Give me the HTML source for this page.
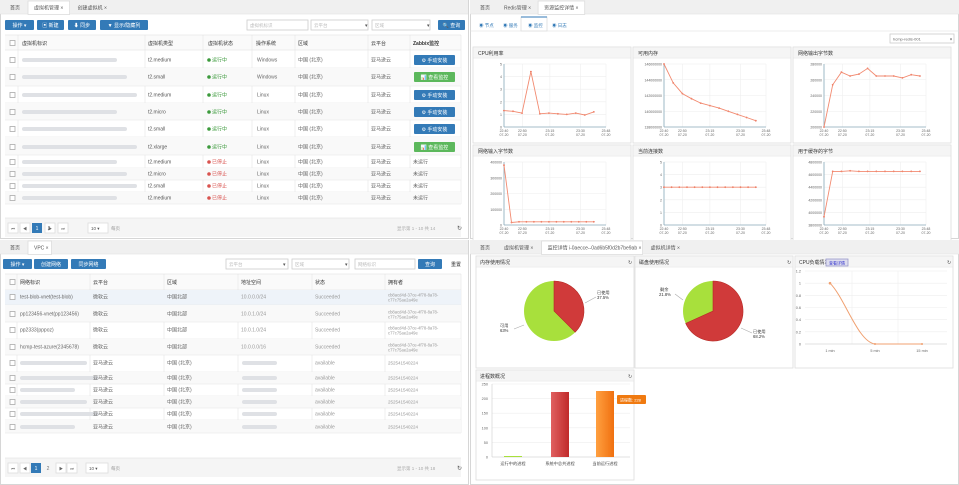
<!DOCTYPE html>
<html><head><meta charset="utf-8">
<style>
html,body{margin:0;padding:0;background:#fff;width:959px;height:485px;overflow:hidden}
svg{display:block}
text{font-family:"Liberation Sans","Noto Sans CJK SC",sans-serif}
</style></head><body>
<svg id="s" width="959" height="485" viewBox="0 0 959 485" xmlns="http://www.w3.org/2000/svg"></svg>
<script>
var o=[];
function R(x,y,w,h,f,s,rx){o.push('<rect x="'+x+'" y="'+y+'" width="'+w+'" height="'+h+'" fill="'+(f||'none')+'"'+(s?' stroke="'+s+'" stroke-width="0.8"':'')+(rx?' rx="'+rx+'"':'')+'/>');}
function T(x,y,t,sz,c,a,w){o.push('<text x="'+x+'" y="'+y+'" font-size="'+(sz||5)+'" fill="'+(c||'#555')+'"'+(a?' text-anchor="'+a+'"':'')+(w?' font-weight="bold"':'')+'>'+t+'</text>');}
function L(x1,y1,x2,y2,c,w){o.push('<line x1="'+x1+'" y1="'+y1+'" x2="'+x2+'" y2="'+y2+'" stroke="'+(c||'#ddd')+'" stroke-width="'+(w||0.6)+'"/>');}
function P(d,f,s,w){o.push('<path d="'+d+'" fill="'+(f||'none')+'" stroke="'+(s||'none')+'" stroke-width="'+(w||1)+'"/>');}
function blur(x,y,w){R(x,y-2,w,4,'#dfe1e5',null,2);}
function btn(x,y,w,h,t,c){R(x,y,w,h,c||'#337ab7',null,1);T(x+w/2,y+h/2+2,t,5,'#fff','middle');}
function cb(x,y){R(x,y-2.5,5,5,'#fff','#aaa');}
function tw(t){var w=0;for(var i=0;i<t.length;i++){w+=t.charCodeAt(i)>255?5:2.3;}return w;}
function tabs(x,y,w,list,act){R(x,y,w,14,'#f0f0f0');L(x,y+14,x+w,y+14,'#ddd');var cx=x+4;list.forEach(function(t,i){var ww=tw(t)+12;if(i==act){R(cx,y+1,ww,13.5,'#fff','#ddd');}T(cx+6,y+9.5,t,5,'#555');cx+=ww+2;});}
R(0.5,0.5,468,238,'#fff','#ccc');R(470.5,0.5,488,238,'#fff','#ccc');
R(0.5,240.5,468,244,'#fff','#ccc');R(470.5,240.5,488,244,'#fff','#ccc');
// ===== TOP LEFT =====
tabs(0,0,468,['首页','虚拟机管理 ×','创建虚拟机 ×'],1);
btn(5,20,29,10,'操作 ▾');btn(37,20,27,10,'▣ 新建');btn(68,20,28,10,'⬇ 同步');btn(100,20,48,10,'▼ 显示/隐藏列');
R(247,20,61,10,'#fff','#ccc');T(250,27,'虚拟机标识',4.5,'#bbb');
R(311,20,57,10,'#fff','#ccc');T(314,27,'云平台',4.5,'#bbb');T(365,27,'▾',5,'#555');
R(372,20,58,10,'#fff','#ccc');T(375,27,'区域',4.5,'#bbb');T(427,27,'▾',5,'#555');
btn(438,20,27,10,'🔍 查询');
R(5,35,456,15,'#fafafa');L(5,50,461,50,'#ddd');L(5,35,461,35,'#ddd');
var cols=[18,145,203,252,295,368,410,461];cols.forEach(function(c){L(c,35,c,204,'#e5e5e5');});
cb(10,43);T(22,45,'虚拟机标识',5,'#333');T(148,45,'虚拟机类型',5,'#333');T(208,45,'虚拟机状态',5,'#333');T(256,45,'操作系统',5,'#333');T(298,45,'区域',5,'#333');T(371,45,'云平台',5,'#333');T(413,45,'Zabbix监控',5,'#333',0,1);
var rows=[[60,'t2.medium',1,'Windows',1],[77,'t2.small',1,'Windows',2],[95,'t2.medium',1,'Linux',1],[112,'t2.micro',1,'Linux',1],[129,'t2.small',1,'Linux',1],[147,'t2.xlarge',1,'Linux',2],[162,'t2.medium',0,'Linux',0],[174,'t2.micro',0,'Linux',0],[186,'t2.small',0,'Linux',0],[198,'t2.medium',0,'Linux',0]];
var bnd=[50,68,86,103,120,137,155,168,180,192,204];
rows.forEach(function(r,i){if(i%2==1)R(5,bnd[i],456,bnd[i+1]-bnd[i],'#f9f9f9');L(5,bnd[i+1],461,bnd[i+1],'#e5e5e5');var y=r[0]+1.5;cb(10,r[0]);blur(22,r[0],95+(i%3)*10);T(148,y,r[1],5,'#555');
if(r[2]){o.push('<circle cx="209" cy="'+(r[0])+'" r="1.8" fill="#3c9a3c"/>');T(212,y,'运行中',5,'#3c9a3c');}else{o.push('<circle cx="209" cy="'+r[0]+'" r="1.8" fill="#d9534f"/>');T(212,y,'已停止',5,'#d9534f');}
T(257,y,r[3],5,'#666');T(298,y,'中国 (北京)',5,'#666');T(371,y,'亚马逊云',5,'#666');
if(r[4]==1)btn(414,r[0]-5,41,10,'⚙ 手动安装','#337ab7');else if(r[4]==2)btn(414,r[0]-5,41,10,'📊 查看监控','#5cb85c');else T(413,y,'未运行',5,'#666');});
R(5,218,456,19,'#f5f5f5');L(5,218,461,218,'#ddd');
[[8,'⏮'],[20,'◀'],[45,'▶'],[58,'⏭']].forEach(function(p){R(p[0],223,10,10,'#fff','#ddd');T(p[0]+5,230,p[1],4,'#666','middle');});
R(32,223,10,10,'#337ab7');T(37,230,'1',5,'#fff','middle');T(49,230,'2',5,'#777','middle');
R(88,223,20,10,'#fff','#ddd');T(91,230,'10 ▾',4.5,'#555');T(111,230,'每页',4.5,'#999');
T(397,230,'显示第 1 - 10 共 14',4.5,'#aaa');T(457,230,'↻',6,'#555');
// ===== BOTTOM LEFT =====
tabs(0,240,468,['首页','VPC ×'],1);
btn(3,259,29,10,'操作 ▾');btn(34,259,34,10,'创建网络');btn(71,259,35,10,'同步网络');
R(226,259,62,10,'#fff','#ccc');T(229,266,'云平台',4.5,'#bbb');T(283,266,'▾',5,'#555');
R(292,259,57,10,'#fff','#ccc');T(295,266,'区域',4.5,'#bbb');T(345,266,'▾',5,'#555');
R(355,259,60,10,'#fff','#ccc');T(358,266,'网络标识',4.5,'#bbb');
btn(418,259,24,10,'查询');T(456,266,'重置',5,'#333','middle');
R(5,274,456,16,'#fafafa');L(5,274,461,274,'#ddd');L(5,290,461,290,'#ddd');
[17,90,164,238,312,385,461].forEach(function(c){L(c,274,c,433,'#e5e5e5');});
cb(10,282);[['网络标识',20],['云平台',93],['区域',167],['地址空间',241],['状态',315],['拥有者',388]].forEach(function(h){T(h[1],284,h[0],5,'#333');});
var vr=[[297,'test-blob-vnet(test-blob)','微软云','中国北部','10.0.0.0/24','Succeeded'],[314,'pp123456-vnet(pp123456)','微软云','中国北部','10.0.1.0/24','Succeeded'],[330,'pp2333(pppoz)','微软云','中国北部','10.0.1.0/24','Succeeded'],[347,'hcmp-test-azure(2345678)','微软云','中国北部','10.0.0.0/16','Succeeded'],[363,'','亚马逊云','中国 (北京)','','available'],[378,'','亚马逊云','中国 (北京)','','available'],[390,'','亚马逊云','中国 (北京)','','available'],[402,'','亚马逊云','中国 (北京)','','available'],[414,'','亚马逊云','中国 (北京)','','available'],[427,'','亚马逊云','中国 (北京)','','available']];
var vb=[290,305,322,339,355,372,384,396,408,420,433];
vr.forEach(function(r,i){if(i==0)R(5,vb[0],456,15,'#eef3f9');else if(i%2==1)R(5,vb[i],456,vb[i+1]-vb[i],'#f9f9f9');L(5,vb[i+1],461,vb[i+1],'#e5e5e5');var y=r[0]+1.5;cb(10,r[0]);
if(r[1])T(20,y,r[1],5,'#666');else blur(20,r[0],55+(i%3)*12);T(93,y,r[2],5,'#666');T(167,y,r[3],5,'#666');if(r[4])T(241,y,r[4],5,'#999');else blur(242,r[0],35);T(315,y,r[5],5,'#999');
if(i<4){T(388,y-2,'cb8acd4d-37ce-4f78-8a78-',4.2,'#999');T(388,y+3,'c77c75ae2a49e',4.2,'#999');}else T(388,y,'252541540224',4.5,'#999');});
R(5,458,456,19,'#f5f5f5');L(5,458,461,458,'#ddd');
[[8,'⏮'],[20,'◀'],[56,'▶'],[67,'⏭']].forEach(function(p){R(p[0],463,10,10,'#fff','#ddd');T(p[0]+5,470,p[1],4,'#666','middle');});
R(31,463,10,10,'#337ab7');T(36,470,'1',5,'#fff','middle');T(48,470,'2',5,'#777','middle');
R(86,463,22,10,'#fff','#ddd');T(89,470,'10 ▾',4.5,'#555');T(111,470,'每页',4.5,'#999');
T(397,470,'显示第 1 - 10 共 18',4.5,'#aaa');T(457,470,'↻',6,'#555');
// ===== TOP RIGHT =====
tabs(470,0,489,['首页','Redis管理 ×','资源监控详情 ×'],2);
L(470,31,959,31,'#ddd');
[['◉ 节点',476],['◉ 服务',500],['◉ 监控',525],['◉ 日志',549]].forEach(function(t,i){if(i==2){R(521,17,26,14,'#fff','#ddd');L(521,17,547,17,'#337ab7',1);}T(t[1]+3,27,t[0],4.5,'#337ab7');});
R(890,34,64,9,'#fff','#ccc');T(893,40.5,'hcmp-redis-001',4,'#666');T(950,40.5,'▾',4,'#555');
function linechart(px,py,title,ylabels,pts){R(px,py,158,96,'#fff','#ddd');R(px+0.4,py+0.4,157,10,'#f5f5f5');L(px,py+11,px+158,py+11,'#ddd');T(px+5,py+8,title,5,'#333');
var x0=px+31,x1=px+133,y0=py+17,y1=py+80;var n=ylabels.length-1;
for(var i=0;i<=n;i++){var y=y1-(y1-y0)*i/n;L(x0,y,x1,y,'#eee');T(x0-2,y+1.5,ylabels[i],3.5,'#666','end');}
var xs=[0,0.18,0.45,0.75,1];var xl=['22:40','22:50','23:15','23:30','23:48'];xs.forEach(function(f,i){var x=x0+(x1-x0)*f;L(x,y0,x,y1,'#eee');T(x,y1+5,xl[i],3.5,'#666','middle');T(x,y1+9,'07-20',3.5,'#666','middle');});
L(x0,y0,x0,y1,'#8ab',0.8);L(x0,y1,x1,y1,'#8ab',0.8);
var d='';pts.forEach(function(p,i){var x=x0+(x1-x0)*p[0],y=y0+(y1-y0)*p[1];d+=(i?'L':'M')+x.toFixed(1)+' '+y.toFixed(1);o.push('<circle cx="'+x.toFixed(1)+'" cy="'+y.toFixed(1)+'" r="0.9" fill="#e8705a"/>');});P(d,'none','#f28a70',0.9);}
function mk(arr,xe){return arr.map(function(v,i){return[i*xe/(arr.length-1),v];});}
linechart(473,47,'CPU利用率',['0','1','2','3','4','5'],mk([0.74,0.75,0.78,0.12,0.79,0.78,0.79,0.8,0.78,0.81,0.76],0.88));
linechart(633,47,'可用内存',['138000000','140000000','142000000','144000000','146000000'],mk([0,0.3,0.47,0.55,0.62,0.66,0.7,0.75,0.8,0.85,0.9],0.9));
linechart(793,47,'网络输出字节数',['200000','220000','240000','260000','280000'],mk([1,0.33,0.13,0.19,0.16,0.07,0.19,0.19,0.19,0.22,0.17,0.19],0.94));
linechart(473,145,'网络输入字节数',['0','100000','200000','300000','400000'],mk([0.05,0.96,0.95,0.95,0.95,0.95,0.95,0.95,0.95,0.95,0.95,0.95,0.95],0.88));
linechart(633,145,'当前连接数',['0','1','2','3','4','5'],mk([0.4,0.4,0.4,0.4,0.4,0.4,0.4,0.4,0.4,0.4,0.4,0.4,0.4],0.9));
linechart(793,145,'用于缓存的字节',['3800000','4000000','4200000','4400000','4600000','4800000'],mk([0.87,0.15,0.15,0.14,0.15,0.15,0.15,0.15,0.15,0.15,0.15,0.15],0.94));
// ===== BOTTOM RIGHT =====
tabs(470,240,489,['首页','虚拟机管理 ×','监控详情 i-0aecce--0ad6b5f0d2b7be9ab ×','虚拟机详情 ×'],2);
function panel(x,y,w,h,t){R(x,y,w,h,'#fff','#ddd');R(x+0.4,y+0.4,w-0.8,10,'#f5f5f5');L(x,y+11,x+w,y+11,'#ddd');T(x+4,y+8,t,5,'#333');T(x+w-6,y+8,'↻',5,'#555');}
panel(476,256,158,112,'内存使用情况');panel(635,256,158,112,'磁盘使用情况');panel(795,256,158,112,'CPU负载情况');
R(826,259,22,7,'#dde','#99c');T(837,264.5,'查看详情',4,'#33c','middle');
function pie(cx,cy,r,fr){var a=fr*2*Math.PI;var ex=cx+r*Math.sin(a),ey=cy-r*Math.cos(a);var big=fr>0.5?1:0;
o.push('<circle cx="'+cx+'" cy="'+cy+'" r="'+r+'" fill="#a8e03c"/>');
P('M'+cx+' '+cy+' L'+cx+' '+(cy-r)+' A'+r+' '+r+' 0 '+big+' 1 '+ex.toFixed(1)+' '+ey.toFixed(1)+' Z','#d03a3a','#b82828',0.6);}
pie(554,311,30,0.375);L(585,303,596,297,'#aaa');T(597,294,'已使用',4.2,'#333');T(597,299,'37.5%',4.2,'#333');
L(524,325,514,329,'#aaa');T(500,327,'可用',4.2,'#333');T(500,332,'63%',4.2,'#333');
pie(713,311,30,0.682);L(683,300,675,294,'#aaa');T(660,291,'剩余',4.2,'#333');T(659,296,'21.8%',4.2,'#333');
L(741,328,752,333,'#aaa');T(753,333,'已使用',4.2,'#333');T(753,338,'68.2%',4.2,'#333');
var cx0=805,cx1=947,cy0=271,cy1=344;var yl=['0','0.2','0.4','0.6','0.8','1','1.2'];
yl.forEach(function(l,i){var y=cy1-(cy1-cy0)*i/6;L(cx0,y,cx1,y,'#eee');T(cx0-4,y+1.5,l,3.8,'#666','end');});
[852,898].forEach(function(x){L(x,cy0,x,cy1,'#eee');});L(cx0,cy1,cx1,cy1,'#ccc');
T(830,352,'1 min',3.8,'#666','middle');T(875,352,'5 min',3.8,'#666','middle');T(922,352,'15 min',3.8,'#666','middle');
var y1v=cy1-(cy1-cy0)/1.2;P('M830 '+y1v.toFixed(1)+' C845 '+(y1v+15)+' 858 '+(cy1-2)+' 875 '+cy1+' L922 '+cy1,'none','#f0a070',1);
o.push('<circle cx="830" cy="'+y1v.toFixed(1)+'" r="1.3" fill="#f0a070"/><circle cx="875" cy="344" r="1" fill="#f0a070"/><circle cx="922" cy="344" r="1" fill="#f0a070"/>');
panel(476,370,158,110,'进程数概况');
var bx0=492,bx1=630,by0=384,by1=457;['0','50','100','150','200','250'].forEach(function(l,i){var y=by1-(by1-by0)*i/5;L(bx0,y,bx1,y,'#eee');T(bx0-4,y+1.5,l,3.8,'#666','end');});
L(bx0,by0,bx0,by1,'#ccc');L(bx0,by1,bx1,by1,'#ccc');
o.push('<defs><linearGradient id="gr" x1="0" x2="1"><stop offset="0" stop-color="#e06060"/><stop offset="1" stop-color="#c02a2a"/></linearGradient><linearGradient id="go" x1="0" x2="1"><stop offset="0" stop-color="#ffa040"/><stop offset="1" stop-color="#f07010"/></linearGradient></defs>');
R(504,456,18,1,'#a8e03c');R(551,392,18,65,'url(#gr)');R(596,391,18,66,'url(#go)');
R(617,395,29,9,'#f07a10',null,1);T(620,401.5,'进程数: 228',4,'#fff');
T(513,465,'运行中的进程',4.2,'#444','middle');T(560,465,'系统中总共进程',4.2,'#444','middle');T(605,465,'当前运行进程',4.2,'#444','middle');
document.getElementById('s').innerHTML=o.join('');
</script>
</body></html>
